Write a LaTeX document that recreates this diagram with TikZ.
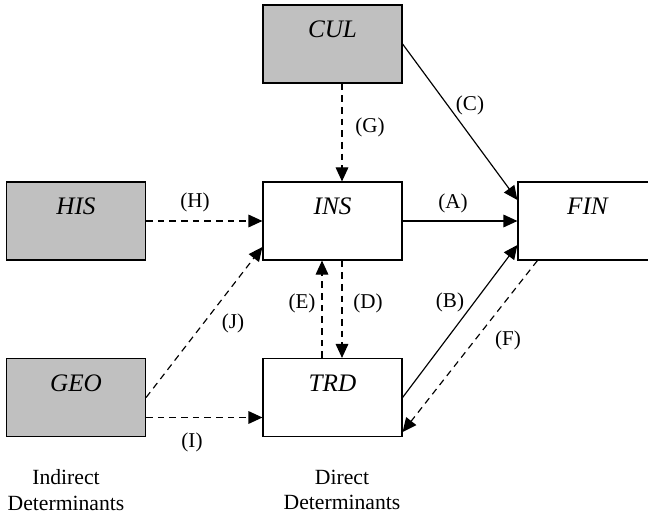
\documentclass[tikz,border=0pt]{standalone}
\usepackage{fontspec}
\setmainfont{Liberation Serif}
\usepackage{tikz}
\usetikzlibrary{calc,arrows.meta}
\definecolor{boxgray}{HTML}{C0C0C0}
\tikzset{
  directBox/.style={draw=black, line width=1pt, fill=white, minimum width=4.17cm,
    minimum height=2.34cm, inner sep=0pt, text height=0.99cm, text depth=1.35cm,
    font=\fontsize{21.5}{24}\selectfont\itshape},
  indirectBox/.style={directBox, fill=boxgray},
  solidLink/.style={line width=1pt, -{Triangle[length=0.42cm, width=0.38cm]}},
  dashLink/.style={solidLink, dash pattern=on 0.2cm off 0.15cm},
  linkLabel/.style={font=\fontsize{18}{21}\selectfont},
  groupText/.style={align=center, font=\fontsize{18.5}{21.5}\selectfont}
}

\begin{document}
\begin{tikzpicture}[x=0.03cm, y=-0.03cm]
  \useasboundingbox (0,0) rectangle (648,516);
  \clip (0,0) rectangle (648,516);

  % boxes
  \node[indirectBox] (CUL) at (332.5,44) {CUL};
  \node[indirectBox] (HIS) at (76,221) {HIS};
  \node[indirectBox] (GEO) at (76,397.5) {GEO};
  \node[directBox] (INS) at (332.5,221) {INS};
  \node[directBox] (TRD) at (332.5,397.5) {TRD};
  \node[directBox] (FIN) at (587.5,221) {FIN};

  % links
  \draw[solidLink] (INS.east) -- (FIN.west);
  \draw[solidLink] (TRD.east) -- ($(FIN.west)+(0,24)$);
  \draw[solidLink] (CUL.east) -- ($(FIN.west)+(0,-21)$);
  \draw[dashLink] ($(INS.south)+(9.5,0)$) -- ($(TRD.north)+(9.5,0)$);
  \draw[dashLink] ($(TRD.north)+(-10.5,0)$) -- ($(INS.south)+(-10.5,0)$);
  \draw[dashLink] ($(FIN.south west)+(20,0)$) -- ($(TRD.south east)+(0,-5)$);
  \draw[dashLink] ($(CUL.south)+(9.5,0)$) -- ($(INS.north)+(9.5,0)$);
  \draw[dashLink] (HIS.east) -- (INS.west);
  \draw[dashLink] ($(GEO.east)+(0,20)$) -- ($(TRD.west)+(0,20)$);
  \draw[dashLink] (GEO.east) -- ($(INS.west)+(0,26)$);

  \node[linkLabel] (lA) at (453,203) {(A)};
  \node[linkLabel] (lB) at (450,302) {(B)};
  \node[linkLabel] (lC) at (470,105) {(C)};
  \node[linkLabel] (lD) at (368,303) {(D)};
  \node[linkLabel] (lE) at (302,303) {(E)};
  \node[linkLabel] (lF) at (508,340) {(F)};
  \node[linkLabel] (lG) at (370,127) {(G)};
  \node[linkLabel] (lH) at (195,202) {(H)};
  \node[linkLabel] (lI) at (192,442) {(I)};
  \node[linkLabel] (lJ) at (233,323) {(J)};

  \node[groupText] (indirect) at (66,490) {Indirect\\Determinants};
  \node[groupText] (direct) at (342,490) {Direct\\Determinants};
\end{tikzpicture}
\end{document}
